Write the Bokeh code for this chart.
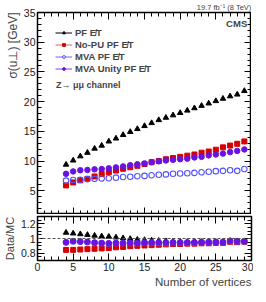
import numpy as np
from bokeh.plotting import figure
from bokeh.layouts import column
from bokeh.models import (Legend, LegendItem, Label, Title, LinearAxis,
                          SingleIntervalTicker, FixedTicker, Span, Range1d,
                          CustomJSTickFormatter)
from bokeh.embed import file_html
from bokeh.resources import INLINE

# ---------------- data ----------------
n_vertices = list(range(4, 30))
pf_met = [9.4, 10.1, 10.8, 11.4, 12.1, 12.6, 13.3, 13.8, 14.4, 14.9, 15.4, 15.9, 16.4,
          16.9, 17.3, 17.7, 18.1, 18.5, 18.9, 19.3, 19.7, 20.1, 20.5, 20.9, 21.2, 21.8]
nopu_met = [5.9, 6.4, 6.75, 7.0, 7.4, 7.8, 8.1, 8.4, 8.7, 8.95, 9.2, 9.5, 9.8,
            10.0, 10.3, 10.5, 10.7, 10.9, 11.1, 11.4, 11.6, 11.9, 12.3, 12.6, 12.9, 13.3]
mva_met = [6.7, 6.8, 6.85, 6.95, 7.0, 7.05, 7.1, 7.2, 7.3, 7.35, 7.45, 7.5, 7.6,
           7.7, 7.75, 7.85, 7.9, 7.95, 8.0, 8.1, 8.2, 8.3, 8.35, 8.45, 8.35, 8.65]
mva_unity_met = [7.85, 8.25, 8.45, 8.5, 8.6, 8.65, 8.77, 8.93, 9.1, 9.3, 9.46, 9.6, 9.8,
                 9.95, 10.1, 10.2, 10.3, 10.4, 10.6, 10.7, 10.95, 11.1, 11.25, 11.5, 11.7, 11.95]

ratio_pf = [1.08, 1.07, 1.06, 1.05, 1.04, 1.03, 1.025, 1.015, 1.005, 0.995, 0.985, 0.98, 0.975,
            0.97, 0.965, 0.96, 0.96, 0.955, 0.955, 0.955, 0.955, 0.955, 0.955, 0.965, 0.945, 0.96]
ratio_nopu = [0.845, 0.845, 0.85, 0.855, 0.86, 0.865, 0.87, 0.88, 0.885, 0.895, 0.9, 0.905, 0.91,
              0.915, 0.92, 0.925, 0.925, 0.93, 0.93, 0.935, 0.935, 0.94, 0.94, 0.955, 0.95, 0.955]
ratio_mva = [0.945, 0.96, 0.955, 0.95, 0.94, 0.935, 0.93, 0.935, 0.935, 0.935, 0.935, 0.94, 0.94,
             0.94, 0.94, 0.945, 0.945, 0.945, 0.945, 0.95, 0.95, 0.95, 0.95, 0.965, 0.96, 0.96]
ratio_mva_unity = [0.95, 0.965, 0.96, 0.955, 0.945, 0.94, 0.935, 0.94, 0.94, 0.94, 0.94, 0.94, 0.945,
                   0.945, 0.945, 0.945, 0.945, 0.945, 0.95, 0.95, 0.95, 0.95, 0.95, 0.97, 0.965, 0.965]

series_labels = ["PF E\u0338T", "No-PU PF E\u0338T", "MVA PF E\u0338T", "MVA Unity PF E\u0338T"]
ratio_ticks = [0.8, 1.0, 1.2]
ratio_tick_labels = ["0.8", "1", "1.2"]

# ---------------- style ----------------
FONT = "Liberation Sans"
RED = "#d60000"
BLUE = "#5050ff"
PURPLE = "#6a12e0"
FW = 214
LEFT = 32
BLANK = CustomJSTickFormatter(code="return ''")
NAN = [float("nan")]


def style_axis(ax, show_labels=True, size="10.5px"):
    ax.axis_line_color = None
    ax.major_tick_in = 7
    ax.major_tick_out = 0
    ax.minor_tick_in = 4
    ax.minor_tick_out = 0
    ax.major_tick_line_color = "black"
    ax.minor_tick_line_color = "black"
    ax.major_label_text_font = FONT
    ax.major_label_text_color = "#222222"
    ax.major_label_standoff = 2
    ax.major_label_text_font_size = size
    if not show_labels:
        ax.formatter = BLANK
        ax.major_label_standoff = 0


# ---------------- main panel ----------------
p = figure(frame_width=FW, frame_height=202, x_range=Range1d(0, 30), y_range=Range1d(1, 35),
           output_backend="svg", toolbar_location=None,
           min_border_left=LEFT, min_border_right=2, min_border_top=0, min_border_bottom=0)
p.grid.visible = False
p.outline_line_color = "black"
p.outline_line_width = 1.5

xt = SingleIntervalTicker(interval=5, num_minor_ticks=5)
yt = SingleIntervalTicker(interval=5, num_minor_ticks=5)
p.xaxis.ticker = xt
p.yaxis.ticker = yt
style_axis(p.xaxis[0], show_labels=False)
style_axis(p.yaxis[0])
ax_r = LinearAxis(ticker=yt)
style_axis(ax_r, show_labels=False)
p.add_layout(ax_r, "right")
ax_t = LinearAxis(ticker=xt)
style_axis(ax_t, show_labels=False)
p.add_layout(ax_t, "above")

p.add_layout(Title(text="19.7 fb\u207B\u00B9 (8 TeV)", align="right", text_font=FONT,
                   text_font_size="7.5px", text_font_style="normal", standoff=1), "above")
p.add_layout(Title(text="\u03C3(u\u22A5) [GeV]", align="right", text_font=FONT,
                   text_font_size="12px", text_font_style="normal", standoff=2), "left")

p.scatter(n_vertices, pf_met, marker="triangle", size=5.5, color="black")
p.scatter(n_vertices, nopu_met, marker="square", size=5, color=RED)
p.scatter(n_vertices, mva_met, marker="circle", size=5.5, fill_color=None,
          line_color=BLUE, line_width=1.1)
p.scatter(n_vertices, mva_unity_met, marker="circle", size=5.5, color=PURPLE)

# legend glyphs (NaN data: drawn only in the legend)
l_pf = p.line(NAN, NAN, line_color="black", line_width=1)
l_nopu = p.line(NAN, NAN, line_color="#f09090", line_width=1.5)
l_mva = p.line(NAN, NAN, line_color="#9a9aff", line_width=1.5)
l_unity = p.line(NAN, NAN, line_color="#b080f0", line_width=1.5)
m_pf = p.scatter(NAN, NAN, marker="triangle", size=4.5, color="black")
m_nopu = p.scatter(NAN, NAN, marker="square", size=4, color=RED)
m_mva = p.scatter(NAN, NAN, marker="circle", size=4.5, fill_color="white",
                  line_color=BLUE, line_width=1)
m_unity = p.scatter(NAN, NAN, marker="circle", size=4.5, color=PURPLE)

legend = Legend(items=[
    LegendItem(label=series_labels[0], renderers=[l_pf, m_pf]),
    LegendItem(label=series_labels[1], renderers=[l_nopu, m_nopu]),
    LegendItem(label=series_labels[2], renderers=[l_mva, m_mva]),
    LegendItem(label=series_labels[3], renderers=[l_unity, m_unity]),
], location=(18, 140))
legend.label_text_font = FONT
legend.label_text_font_size = "9.5px"
legend.label_text_font_style = "bold"
legend.label_height = 12
legend.glyph_height = 7
legend.glyph_width = 17
legend.label_standoff = 3
legend.spacing = 0
legend.padding = 0
legend.margin = 0
legend.background_fill_alpha = 0
legend.border_line_alpha = 0
p.add_layout(legend, "center")

p.add_layout(Label(x=2.6, y=22.8, text="Z\u2192 \u03BC\u03BC channel", text_font=FONT,
                   text_font_size="9px", text_font_style="bold", text_baseline="middle"))
p.add_layout(Label(x=29.4, y=33.2, text="CMS", text_font=FONT, text_font_size="9.5px",
                   text_font_style="bold", text_align="right", text_baseline="middle"))

# ---------------- ratio panel ----------------
r = figure(frame_width=FW, frame_height=44, x_range=p.x_range, y_range=Range1d(0.7, 1.3),
           output_backend="svg", toolbar_location=None,
           min_border_left=LEFT, min_border_right=2, min_border_top=2, min_border_bottom=0)
r.grid.visible = False
r.outline_line_color = "black"
r.outline_line_width = 1.5

rt = FixedTicker(ticks=ratio_ticks,
                 minor_ticks=[0.7, 0.75, 0.85, 0.9, 0.95, 1.05, 1.1, 1.15, 1.25, 1.3])
r.xaxis.ticker = xt
r.yaxis.ticker = rt
style_axis(r.xaxis[0])
style_axis(r.yaxis[0])
r.yaxis.major_label_overrides = {t: lab for t, lab in zip(ratio_ticks, ratio_tick_labels)}
r.yaxis.axis_label = "Data/MC"
r.yaxis.axis_label_text_font = FONT
r.yaxis.axis_label_text_font_size = "11px"
r.yaxis.axis_label_text_font_style = "normal"
r.yaxis.axis_label_standoff = 2
rr = LinearAxis(ticker=rt)
style_axis(rr, show_labels=False)
r.add_layout(rr, "right")
ra = LinearAxis(ticker=xt)
style_axis(ra, show_labels=False)
r.add_layout(ra, "above")
r.add_layout(Title(text="Number of vertices", align="right", text_font=FONT,
                   text_font_size="11.5px", text_font_style="normal", standoff=1), "below")

r.add_layout(Span(location=1.0, dimension="width", line_color="#555555",
                  line_dash="3 2", line_width=1))
r.scatter(n_vertices, ratio_pf, marker="triangle", size=5.5, color="black")
r.scatter(n_vertices, ratio_nopu, marker="square", size=5, color=RED)
r.scatter(n_vertices, ratio_mva, marker="circle", size=5.5, fill_color=None,
          line_color=BLUE, line_width=1.1)
r.scatter(n_vertices, ratio_mva_unity, marker="circle", size=5.5, color=PURPLE)

layout = column(p, r, spacing=0)
open("out.html", "w").write(file_html(layout, INLINE))
